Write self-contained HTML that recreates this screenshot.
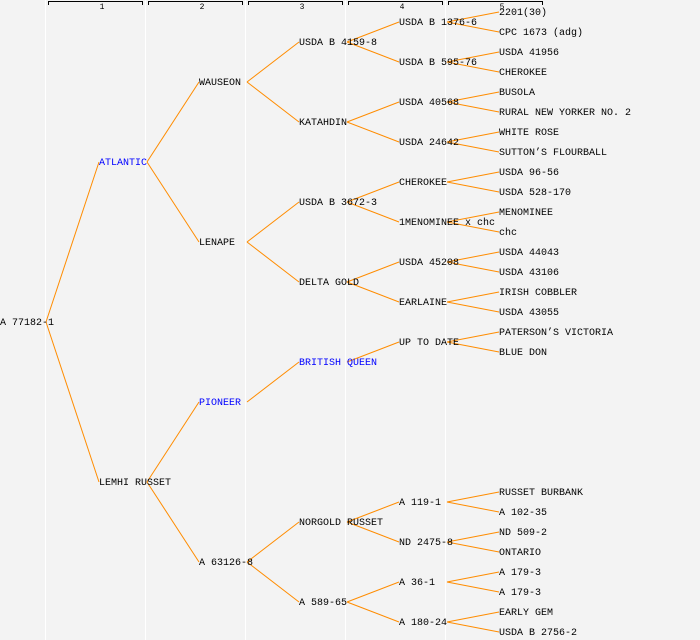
<!DOCTYPE html>
<html><head><meta charset="utf-8"><style>
html,body{margin:0;padding:0;background:#f3f3f3;}
svg{display:block;}
text{font-family:"Liberation Mono","DejaVu Sans Mono",monospace;font-size:10px;fill:#000;}
.b{fill:#0000ff;}
.h{font-size:8px;text-anchor:middle;}
line.e{stroke:#ff8c00;stroke-width:1;}
</style></head><body>
<svg width="700" height="640" xmlns="http://www.w3.org/2000/svg">
<rect width="700" height="640" fill="#f3f3f3"/>
<g stroke="#ffffff" stroke-width="1">
<line x1="45.5" y1="0" x2="45.5" y2="640"/><line x1="145.5" y1="0" x2="145.5" y2="640"/>
<line x1="245.5" y1="0" x2="245.5" y2="640"/><line x1="345.5" y1="0" x2="345.5" y2="640"/>
<line x1="445.5" y1="0" x2="445.5" y2="640"/>
</g>
<g stroke="#000" fill="none" stroke-width="1">
<path d="M48.5 5V1.5H142.5V5"/><path d="M148.5 5V1.5H242.5V5"/><path d="M248.5 5V1.5H342.5V5"/>
<path d="M348.5 5V1.5H442.5V5"/><path d="M448.5 5V1.5H542.5V5"/>
</g>
<text class="h" x="102" y="9">1</text><text class="h" x="202" y="9">2</text><text class="h" x="302" y="9">3</text>
<text class="h" x="402" y="9">4</text><text class="h" x="502" y="9">5</text>
<g class="edges">
<line class="e" x1="46" y1="322" x2="99" y2="162"/><line class="e" x1="46" y1="322" x2="99" y2="482"/>
<line class="e" x1="147" y1="162" x2="199" y2="82"/><line class="e" x1="147" y1="162" x2="199" y2="242"/>
<line class="e" x1="147" y1="482" x2="199" y2="402"/><line class="e" x1="147" y1="482" x2="199" y2="562"/>
<line class="e" x1="247" y1="82" x2="299" y2="42"/><line class="e" x1="247" y1="82" x2="299" y2="122"/>
<line class="e" x1="247" y1="242" x2="299" y2="202"/><line class="e" x1="247" y1="242" x2="299" y2="282"/>
<line class="e" x1="247" y1="402" x2="299" y2="362"/>
<line class="e" x1="247" y1="562" x2="299" y2="522"/><line class="e" x1="247" y1="562" x2="299" y2="602"/>
<line class="e" x1="347" y1="42" x2="399" y2="22"/><line class="e" x1="347" y1="42" x2="399" y2="62"/>
<line class="e" x1="347" y1="122" x2="399" y2="102"/><line class="e" x1="347" y1="122" x2="399" y2="142"/>
<line class="e" x1="347" y1="202" x2="399" y2="182"/><line class="e" x1="347" y1="202" x2="399" y2="222"/>
<line class="e" x1="347" y1="282" x2="399" y2="262"/><line class="e" x1="347" y1="282" x2="399" y2="302"/>
<line class="e" x1="347" y1="362" x2="399" y2="342"/>
<line class="e" x1="347" y1="522" x2="399" y2="502"/><line class="e" x1="347" y1="522" x2="399" y2="542"/>
<line class="e" x1="347" y1="602" x2="399" y2="582"/><line class="e" x1="347" y1="602" x2="399" y2="622"/>
<line class="e" x1="447" y1="22" x2="499" y2="12"/><line class="e" x1="447" y1="22" x2="499" y2="32"/>
<line class="e" x1="447" y1="62" x2="499" y2="52"/><line class="e" x1="447" y1="62" x2="499" y2="72"/>
<line class="e" x1="447" y1="102" x2="499" y2="92"/><line class="e" x1="447" y1="102" x2="499" y2="112"/>
<line class="e" x1="447" y1="142" x2="499" y2="132"/><line class="e" x1="447" y1="142" x2="499" y2="152"/>
<line class="e" x1="447" y1="182" x2="499" y2="172"/><line class="e" x1="447" y1="182" x2="499" y2="192"/>
<line class="e" x1="447" y1="222" x2="499" y2="212"/><line class="e" x1="447" y1="222" x2="499" y2="232"/>
<line class="e" x1="447" y1="262" x2="499" y2="252"/><line class="e" x1="447" y1="262" x2="499" y2="272"/>
<line class="e" x1="447" y1="302" x2="499" y2="292"/><line class="e" x1="447" y1="302" x2="499" y2="312"/>
<line class="e" x1="447" y1="342" x2="499" y2="332"/><line class="e" x1="447" y1="342" x2="499" y2="352"/>
<line class="e" x1="447" y1="502" x2="499" y2="492"/><line class="e" x1="447" y1="502" x2="499" y2="512"/>
<line class="e" x1="447" y1="542" x2="499" y2="532"/><line class="e" x1="447" y1="542" x2="499" y2="552"/>
<line class="e" x1="447" y1="582" x2="499" y2="572"/><line class="e" x1="447" y1="582" x2="499" y2="592"/>
<line class="e" x1="447" y1="622" x2="499" y2="612"/><line class="e" x1="447" y1="622" x2="499" y2="632"/>
</g>
<g transform="translate(0,3)">
<text x="0" y="322">A 77182-1</text>
<text class="b" x="99" y="162">ATLANTIC</text>
<text x="99" y="482">LEMHI RUSSET</text>
<text x="199" y="82">WAUSEON</text>
<text x="199" y="242">LENAPE</text>
<text class="b" x="199" y="402">PIONEER</text>
<text x="199" y="562">A 63126-8</text>
<text x="299" y="42">USDA B 4159-8</text>
<text x="299" y="122">KATAHDIN</text>
<text x="299" y="202">USDA B 3672-3</text>
<text x="299" y="282">DELTA GOLD</text>
<text class="b" x="299" y="362">BRITISH QUEEN</text>
<text x="299" y="522">NORGOLD RUSSET</text>
<text x="299" y="602">A 589-65</text>
<text x="399" y="22">USDA B 1376-6</text>
<text x="399" y="62">USDA B 595-76</text>
<text x="399" y="102">USDA 40568</text>
<text x="399" y="142">USDA 24642</text>
<text x="399" y="182">CHEROKEE</text>
<text x="399" y="222">1MENOMINEE x chc</text>
<text x="399" y="262">USDA 45208</text>
<text x="399" y="302">EARLAINE</text>
<text x="399" y="342">UP TO DATE</text>
<text x="399" y="502">A 119-1</text>
<text x="399" y="542">ND 2475-8</text>
<text x="399" y="582">A 36-1</text>
<text x="399" y="622">A 180-24</text>
<text x="499" y="12">2201(30)</text>
<text x="499" y="32">CPC 1673 (adg)</text>
<text x="499" y="52">USDA 41956</text>
<text x="499" y="72">CHEROKEE</text>
<text x="499" y="92">BUSOLA</text>
<text x="499" y="112">RURAL NEW YORKER NO. 2</text>
<text x="499" y="132">WHITE ROSE</text>
<text x="499" y="152">SUTTON’S FLOURBALL</text>
<text x="499" y="172">USDA 96-56</text>
<text x="499" y="192">USDA 528-170</text>
<text x="499" y="212">MENOMINEE</text>
<text x="499" y="232">chc</text>
<text x="499" y="252">USDA 44043</text>
<text x="499" y="272">USDA 43106</text>
<text x="499" y="292">IRISH COBBLER</text>
<text x="499" y="312">USDA 43055</text>
<text x="499" y="332">PATERSON’S VICTORIA</text>
<text x="499" y="352">BLUE DON</text>
<text x="499" y="492">RUSSET BURBANK</text>
<text x="499" y="512">A 102-35</text>
<text x="499" y="532">ND 509-2</text>
<text x="499" y="552">ONTARIO</text>
<text x="499" y="572">A 179-3</text>
<text x="499" y="592">A 179-3</text>
<text x="499" y="612">EARLY GEM</text>
<text x="499" y="632">USDA B 2756-2</text>
</g>
</svg>
</body></html>
